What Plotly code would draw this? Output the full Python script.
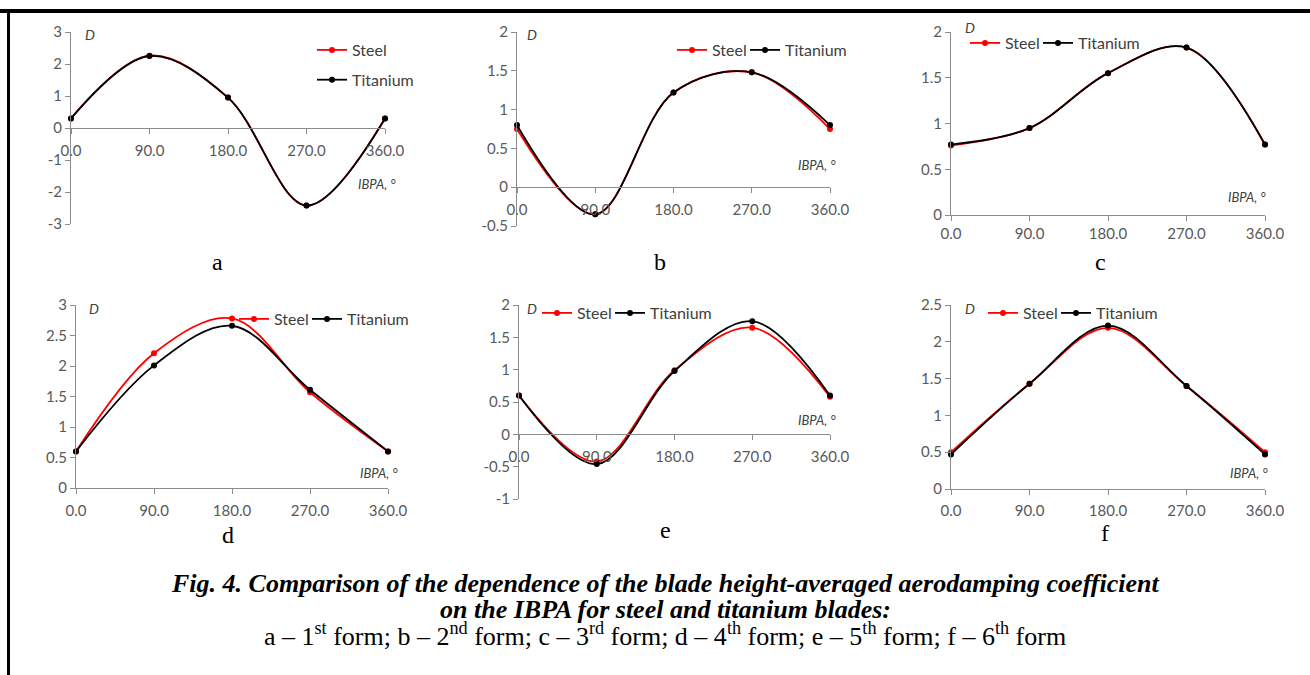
import plotly.graph_objects as go

# ---------------- data ----------------
IBPA = [0, 90, 180, 270, 360]
x_tick_vals = [0, 90, 180, 270, 360]
x_tick_text = ["0.0", "90.0", "180.0", "270.0", "360.0"]
series_names = ["Steel", "Titanium"]

steel_a = [0.30, 2.26, 0.95, -2.42, 0.30]
titanium_a = [0.30, 2.25, 0.95, -2.42, 0.30]
steel_b = [0.75, -0.35, 1.22, 1.48, 0.75]
titanium_b = [0.80, -0.35, 1.22, 1.48, 0.80]
steel_c = [0.76, 0.95, 1.55, 1.83, 0.77]
titanium_c = [0.77, 0.95, 1.55, 1.83, 0.77]
steel_d = [0.60, 2.21, 2.78, 1.57, 0.60]
titanium_d = [0.60, 2.01, 2.66, 1.61, 0.60]
steel_e = [0.60, -0.42, 0.99, 1.65, 0.58]
titanium_e = [0.60, -0.46, 0.98, 1.75, 0.60]
steel_f = [0.50, 1.43, 2.19, 1.40, 0.50]
titanium_f = [0.47, 1.43, 2.22, 1.40, 0.47]

panel_letters = ["a", "b", "c", "d", "e", "f"]
y_tick_vals_a = [-3, -2, -1, 0, 1, 2, 3]
y_tick_text_a = ["-3", "-2", "-1", "0", "1", "2", "3"]
y_tick_vals_b = [-0.5, 0, 0.5, 1, 1.5, 2]
y_tick_text_b = ["-0.5", "0", "0.5", "1", "1.5", "2"]
y_tick_vals_c = [0, 0.5, 1, 1.5, 2]
y_tick_text_c = ["0", "0.5", "1", "1.5", "2"]
y_tick_vals_d = [0, 0.5, 1, 1.5, 2, 2.5, 3]
y_tick_text_d = ["0", "0.5", "1", "1.5", "2", "2.5", "3"]
y_tick_vals_e = [-1, -0.5, 0, 0.5, 1, 1.5, 2]
y_tick_text_e = ["-1", "-0.5", "0", "0.5", "1", "1.5", "2"]
y_tick_vals_f = [0, 0.5, 1, 1.5, 2, 2.5]
y_tick_text_f = ["0", "0.5", "1", "1.5", "2", "2.5"]

caption_line1 = "Fig. 4. Comparison of the dependence of the blade height-averaged aerodamping coefficient"
caption_line2 = "on the IBPA for steel and titanium blades:"
caption_line3 = ("a – 1<sup>st</sup> form; b – 2<sup>nd</sup> form; c – 3<sup>rd</sup> form; "
                 "d – 4<sup>th</sup> form; e – 5<sup>th</sup> form; f – 6<sup>th</sup> form")

steel_all = [steel_a, steel_b, steel_c, steel_d, steel_e, steel_f]
titanium_all = [titanium_a, titanium_b, titanium_c, titanium_d, titanium_e, titanium_f]
y_vals_all = [y_tick_vals_a, y_tick_vals_b, y_tick_vals_c, y_tick_vals_d, y_tick_vals_e, y_tick_vals_f]
y_text_all = [y_tick_text_a, y_tick_text_b, y_tick_text_c, y_tick_text_d, y_tick_text_e, y_tick_text_f]

# ---------------- layout geometry (pixels) ----------------
W, H = 1310, 675
boxes = [  # x0, x1, ytop, ybottom
    (71, 385, 32, 224),
    (517, 830, 32, 226),
    (951, 1265, 32, 215),
    (76, 388, 305, 488),
    (519, 830, 305, 499),
    (951, 1265, 305, 489),
]
x_label_standoff = [4, 4, 0, 4, 4, 3]
letter_pos = [(217, 262), (660, 262), (1100, 262), (228, 535), (665, 530), (1105, 533)]
d_pos = [(83, 35), (525, 35), (963, 27), (87, 308), (525, 308), (963, 308)]
ibpa_pos = [(398, 184), (838, 165), (1268, 197), (400, 473), (838, 420), (1270, 473)]
legend_pos = [(352, 65), (712, 50), (1005, 43), (274, 319), (577, 313), (1023, 313)]

RED = "#FF0000"
BLACK = "#000000"
AX = "#8C8C8C"
TICKC = "#595959"
FONT = "Lato"


def px(x):
    return x / W


def py(y):
    return 1 - y / H


fig = go.Figure()
layout = dict(
    width=W, height=H, margin=dict(l=0, r=0, t=0, b=0, pad=0, autoexpand=False),
    paper_bgcolor="white", plot_bgcolor="white", showlegend=True,
    font=dict(family=FONT, color="#404040"),
)
annotations = []

for i in range(6):
    n = i + 1
    sfx = "" if n == 1 else str(n)
    x0, x1, yt, yb = boxes[i]
    yv = y_vals_all[i]
    ymin, ymax = yv[0], yv[-1]
    ydom = [py(yb), py(yt)]
    leg = "legend" if n == 1 else f"legend{n}"
    for k, (name, vals, col) in enumerate(((series_names[0], steel_all[i], RED),
                                           (series_names[1], titanium_all[i], BLACK))):
        tr = dict(
            x=IBPA, y=vals, name=name, mode="lines+markers",
            line=dict(color=col, width=1.8, shape="spline", smoothing=1.0),
            marker=dict(color=col, size=6),
            xaxis=f"x{sfx}", yaxis=f"y{sfx}", legend=leg,
            legendgroup=f"{name}{n}", cliponaxis=False,
        )
        if n > 1 and k == 0:
            tr["legendwidth"] = 28
        fig.add_trace(go.Scatter(**tr))
    xa = dict(
        domain=[px(x0), px(x1)], range=[0, 360], tickvals=x_tick_vals, ticktext=x_tick_text,
        showline=True, linecolor=AX, linewidth=1, ticks="outside", ticklen=5, tickcolor=AX,
        showgrid=False, zeroline=False, tickfont=dict(family=FONT, size=15, color=TICKC),
        ticklabelstandoff=x_label_standoff[i], fixedrange=True, automargin=False,
    )
    if ymin < 0:
        xa["anchor"] = "free"
        xa["position"] = ydom[0] + (0 - ymin) / (ymax - ymin) * (ydom[1] - ydom[0])
    else:
        xa["anchor"] = f"y{sfx}"
    ya = dict(
        domain=ydom, range=[ymin, ymax], tickvals=yv, ticktext=y_text_all[i], anchor=f"x{sfx}",
        showline=True, linecolor=AX, linewidth=1, ticks="outside", ticklen=5, tickcolor=AX,
        showgrid=False, zeroline=False, tickfont=dict(family=FONT, size=15, color=TICKC),
        fixedrange=True, automargin=False,
    )
    layout[f"xaxis{sfx}"] = xa
    layout[f"yaxis{sfx}"] = ya

    lx, ly = legend_pos[i]
    legd = dict(
        x=px(lx - 40), y=py(ly), xanchor="left", yanchor="middle",
        bgcolor="rgba(0,0,0,0)", borderwidth=0,
        font=dict(family=FONT, size=16, color="#404040"),
    )
    if n == 1:
        legd.update(orientation="v", traceorder="grouped", tracegroupgap=6)
    else:
        legd.update(orientation="h")
    layout[leg] = legd

    dx, dy = d_pos[i]
    annotations.append(dict(text="<i>D</i>", x=px(dx), y=py(dy), xref="paper", yref="paper",
                            xanchor="left", yanchor="middle", showarrow=False,
                            font=dict(family=FONT, size=14, color="#404040")))
    ix, iy = ibpa_pos[i]
    annotations.append(dict(text="<i>IBPA, °</i>", x=px(ix), y=py(iy), xref="paper", yref="paper",
                            xanchor="right", yanchor="middle", showarrow=False,
                            font=dict(family=FONT, size=13, color="#404040")))
    tx, ty = letter_pos[i]
    annotations.append(dict(text=panel_letters[i], x=px(tx), y=py(ty), xref="paper", yref="paper",
                            xanchor="center", yanchor="middle", showarrow=False,
                            font=dict(family="Liberation Serif", size=24, color="black")))

cap_font = dict(family="Liberation Serif", size=26, color="black")
annotations.append(dict(text=f"<b><i>{caption_line1}</i></b>", x=px(665), y=py(583),
                        xref="paper", yref="paper", xanchor="center", yanchor="middle",
                        showarrow=False, font=cap_font))
annotations.append(dict(text=f"<b><i>{caption_line2}</i></b>", x=px(665), y=py(609),
                        xref="paper", yref="paper", xanchor="center", yanchor="middle",
                        showarrow=False, font=cap_font))
annotations.append(dict(text=caption_line3, x=px(665), y=py(634),
                        xref="paper", yref="paper", xanchor="center", yanchor="middle",
                        showarrow=False, font=cap_font))
layout["annotations"] = annotations

layout["shapes"] = [
    dict(type="line", xref="paper", yref="paper", x0=0, x1=1, y0=py(11), y1=py(11),
         line=dict(color="black", width=4)),
    dict(type="line", xref="paper", yref="paper", x0=px(8.5), x1=px(8.5), y0=py(9), y1=0,
         line=dict(color="black", width=3)),
]

fig.update_layout(**layout)
fig.write_html("out.html", config={"displayModeBar": False},
               post_script="document.body.style.margin='0px';")
